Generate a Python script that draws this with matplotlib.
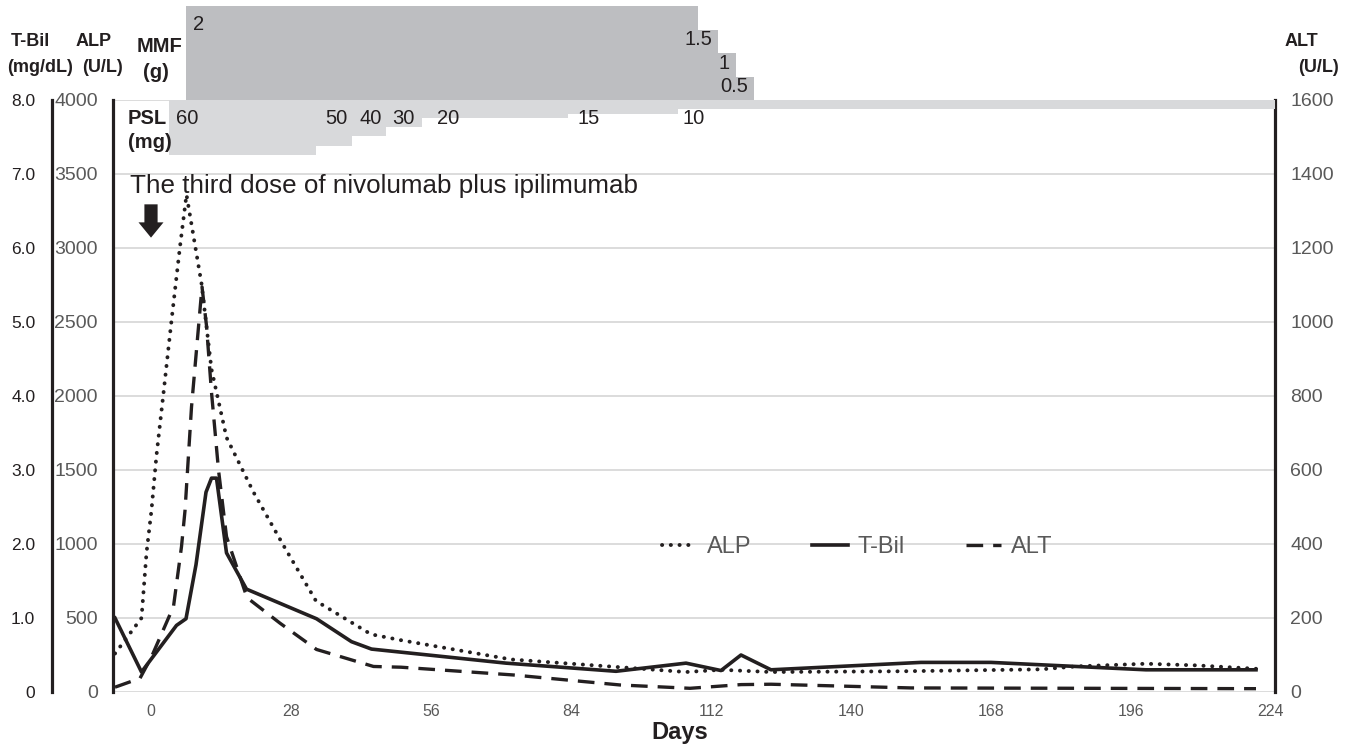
import matplotlib
matplotlib.use("Agg")
import matplotlib.pyplot as plt

# ---- data ----
tbil_days = [-7.2, -1.9, 5.1, 7, 9, 11, 12.1, 13.1, 15.1, 19.1, 33.1, 40.1, 44.1, 71, 93, 107, 114, 118, 124, 154, 168, 199, 221]
tbil = [1.0, 0.27, 0.9, 0.99, 1.72, 2.7, 2.89, 2.89, 1.88, 1.39, 0.99, 0.68, 0.58, 0.39, 0.28, 0.39, 0.29, 0.50, 0.30, 0.40, 0.40, 0.30, 0.30]

alp_days = [-7.2, -1.9, -0.9, 0.1, 1.1, 2.5, 4.1, 5.8, 7.1, 10.1, 12.1, 15.1, 20.5, 26.5, 33, 44, 50, 72, 94, 107, 114, 124, 150, 178, 185, 199, 209, 221]
alp = [260, 500, 940, 1230, 1600, 2020, 2510, 3010, 3360, 2760, 2180, 1720, 1350, 990, 615, 390, 350, 220, 167, 135, 150, 135, 140, 153, 173, 191, 180, 157]

alt_days = [-7.2, -2.2, 0.1, 4.5, 6.1, 6.8, 8.1, 10.2, 11.1, 12.1, 13.5, 15.1, 19.2, 25.8, 33.1, 44.5, 50, 72.5, 93.8, 107.8, 118, 124, 152, 221]
alt = [13, 37, 95, 231, 393, 490, 770, 1095, 990, 810, 600, 420, 255, 186, 115, 69, 67, 46, 19, 10, 20, 21, 11, 9]

psl_start = [3.6, 33.0, 40.2, 47.1, 54.3, 83.4, 105.4]
psl_end = [33.0, 40.2, 47.1, 54.3, 83.4, 105.4, 224.8]
psl_dose = [60, 50, 40, 30, 20, 15, 10]
psl_label_x = [5.0, 34.8, 41.8, 48.2, 57.2, 85.4, 106.4]

mmf_start = [7.1, 109.4, 113.4, 117.0]
mmf_end = [109.4, 113.4, 117.0, 120.6]
mmf_dose = [2, 1.5, 1, 0.5]

day_ticks = [0, 28, 56, 84, 112, 140, 168, 196, 224]
alp_ticks = [0, 500, 1000, 1500, 2000, 2500, 3000, 3500, 4000]
tbil_ticks = [0, 1, 2, 3, 4, 5, 6, 7, 8]
tbil_labels = ["0", "1.0", "2.0", "3.0", "4.0", "5.0", "6.0", "7.0", "8.0"]
alt_ticks = [0, 200, 400, 600, 800, 1000, 1200, 1400, 1600]

plt.rcParams['font.family'] = ['Liberation Sans', 'DejaVu Sans']
NARROW = ['Liberation Sans Narrow', 'Liberation Sans', 'DejaVu Sans']
INK = '#231f20'
GREY = '#595959'

W, H = 1354, 746
def fx(px):
    return px / W
def fy(py):
    return 1 - py / H

fig = plt.figure(figsize=(W / 100, H / 100), dpi=100)
rect = [fx(113), fy(692), (1275 - 113) / W, (692 - 100) / H]

# main ALP axes
ax = fig.add_axes(rect)
ax.set_xlim(-7.6, 224.8)
ax.set_ylim(0, 4000)
ax.set_yticks(alp_ticks)
ax.set_yticklabels([str(t) for t in alp_ticks], family=NARROW)
ax.set_xticks(day_ticks)
ax.set_xticklabels([str(t) for t in day_ticks], family=NARROW)
ax.tick_params(axis='y', length=0, pad=11, labelsize=14, labelcolor=GREY)
ax.tick_params(axis='x', length=0, pad=9, labelsize=11.5, labelcolor=GREY)
ax.yaxis.grid(True, color='#d9d9d9', lw=1.3)
ax.set_axisbelow(True)
for s in ['top', 'bottom', 'right']:
    ax.spines[s].set_visible(False)
ax.spines['left'].set_linewidth(2.3)
ax.spines['left'].set_color(INK)

# T-Bil axis (outer left)
ax_t = ax.twinx()
ax_t.set_ylim(0, 8)
ax_t.yaxis.tick_left()
ax_t.set_yticks(tbil_ticks)
ax_t.set_yticklabels(tbil_labels)
ax_t.tick_params(axis='y', length=0, pad=12, labelsize=12.5, labelcolor=INK)
for s in ['top', 'bottom', 'right']:
    ax_t.spines[s].set_visible(False)
ax_t.spines['left'].set_position(('outward', 61 * 0.72))
ax_t.spines['left'].set_linewidth(2.3)
ax_t.spines['left'].set_color(INK)

# ALT axis (right)
ax_r = ax.twinx()
ax_r.set_ylim(0, 1600)
ax_r.set_yticks(alt_ticks)
ax_r.set_yticklabels([str(t) for t in alt_ticks], family=NARROW)
ax_r.tick_params(axis='y', length=0, pad=11, labelsize=14, labelcolor=GREY)
for s in ['top', 'bottom', 'left']:
    ax_r.spines[s].set_visible(False)
ax_r.spines['right'].set_linewidth(2.3)
ax_r.spines['right'].set_color(INK)

l_alp, = ax.plot(alp_days, alp, color=INK, lw=2.8, linestyle=(0, (0.05, 2.2)),
                 dash_capstyle='round', label='ALP')
l_tbil, = ax_t.plot(tbil_days, tbil, color=INK, lw=2.6, label='T-Bil')
l_alt, = ax_r.plot(alt_days, alt, color=INK, lw=2.4, linestyle=(0, (5, 3)), label='ALT')

# PSL bars hanging from the top of the plot
ax_p = fig.add_axes(rect, sharex=ax)
ax_p.set_ylim(592 / 0.91, 0)
ax_p.axis('off')
ax_p.bar(psl_start, psl_dose, width=[e - s for s, e in zip(psl_start, psl_end)],
         align='edge', color='#d8d9db', lw=0)
for lx, d in zip(psl_label_x, psl_dose):
    ax_p.text(lx, 19.8, str(d), fontsize=14.5, color=INK, va='center', ha='left')

# MMF bars above the plot
ax_m = fig.add_axes([fx(113), fy(100), (1275 - 113) / W, (100 - 6) / H], sharex=ax)
ax_m.set_ylim(0, 2)
ax_m.axis('off')
ax_m.bar(mmf_start, mmf_dose, width=[e - s for s, e in zip(mmf_start, mmf_end)],
         align='edge', color='#bdbec1', lw=0)
ax_m.text(mmf_start[0] + 1.3, 1.6, '2', fontsize=14.5, color=INK, va='center', ha='left')
for e, d in zip(mmf_end[1:], mmf_dose[1:]):
    ax_m.text(e - 1.2, d - 0.22, f"{d:g}", fontsize=14.5, color=INK, va='center', ha='right')

# annotation of the dose
ax.text(-4.2, 3420, 'The third dose of nivolumab plus ipilimumab', fontsize=18.7,
        color=INK, va='center', ha='left')
ax.annotate('', xy=(0, 3070), xytext=(0, 3295),
            arrowprops=dict(facecolor=INK, edgecolor='none', width=9.5,
                            headwidth=18, headlength=11, shrink=0))

# axis titles
bold = dict(fontweight='bold', color=INK, va='center', ha='left')
fig.text(fx(11), fy(42), 'T-Bil', fontsize=13, **bold)
fig.text(fx(7), fy(67), '(mg/dL)', fontsize=13, **bold)
fig.text(fx(76), fy(42), 'ALP', fontsize=13, **bold)
fig.text(fx(82), fy(67), '(U/L)', fontsize=13, **bold)
fig.text(fx(137), fy(46), 'MMF', fontsize=14.5, **bold)
fig.text(fx(143), fy(73), '(g)', fontsize=14.5, **bold)
fig.text(fx(128), fy(118), 'PSL', fontsize=14.5, **bold)
fig.text(fx(128), fy(143), '(mg)', fontsize=14.5, **bold)
fig.text(fx(1285), fy(42), 'ALT', fontsize=13, **bold)
fig.text(fx(1298), fy(67), '(U/L)', fontsize=13, **bold)
fig.text(fx(680), fy(733), 'Days', fontsize=17, fontweight='bold', color=INK,
         va='center', ha='center')

leg = fig.legend(handles=[l_alp, l_tbil, l_alt], loc='center', ncol=3,
                 bbox_to_anchor=(fx(857), fy(547)), frameon=False,
                 prop=dict(family=NARROW, size=17), handlelength=1.5,
                 handletextpad=0.4, columnspacing=2.6)
for t in leg.get_texts():
    t.set_color(GREY)

fig.savefig('out.png', dpi=100)
